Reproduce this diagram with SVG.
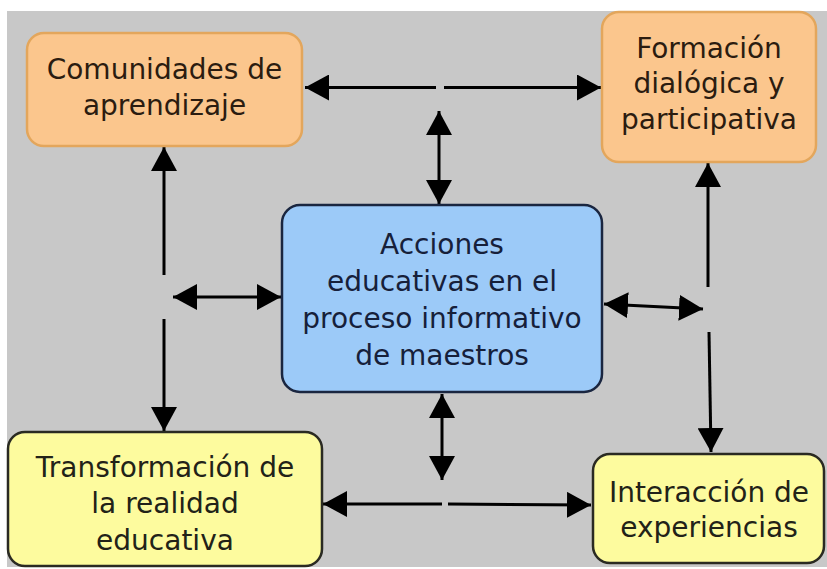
<svg xmlns="http://www.w3.org/2000/svg" width="827" height="569" viewBox="0 0 827 569">
<style>
.orange{fill:#fbc68d;stroke:#e3a65c;stroke-width:2.5}
.blue{fill:#9ccaf8;stroke:#1a2640;stroke-width:2.5}
.yellow{fill:#fdfb9e;stroke:#2a2a22;stroke-width:2.5}
text{font-family:"DejaVu Sans","Verdana",sans-serif;font-size:28px;text-anchor:middle}
.to{fill:#2b1c10}
.tb{fill:#16203a}
.ty{fill:#222218}
.c line{stroke:#000;stroke-width:3;fill:none}
.e{marker-end:url(#ah)}
.d{marker-start:url(#ah);marker-end:url(#ah)}
</style>
<defs>
<marker id="ah" viewBox="0 0 24 26" refX="24" refY="13" markerWidth="24" markerHeight="26" markerUnits="userSpaceOnUse" orient="auto-start-reverse">
<path d="M0,0 L24,13 L0,26 z" fill="#000"/>
</marker>
</defs>
<rect x="0" y="0" width="827" height="569" fill="#ffffff"/>
<rect x="7" y="11" width="820" height="556" fill="#c8c8c8"/>
<g id="connectors" class="c">
<line class="e" x1="436" y1="87.5" x2="305" y2="87.5"/>
<line class="e" x1="444" y1="87.5" x2="601" y2="87.5"/>
<line class="d" x1="439" y1="111" x2="439" y2="204"/>
<line class="e" x1="164" y1="275" x2="164" y2="147"/>
<line class="e" x1="164" y1="319" x2="164" y2="431"/>
<line class="d" x1="173" y1="297" x2="281" y2="297"/>
<line class="d" x1="604" y1="304" x2="703" y2="309"/>
<line class="e" x1="708" y1="287" x2="708" y2="163"/>
<line class="e" x1="709" y1="332" x2="711" y2="452"/>
<line class="d" x1="442" y1="394" x2="442" y2="480"/>
<line class="e" x1="442" y1="504" x2="323" y2="504"/>
<line class="e" x1="448" y1="504" x2="591" y2="505"/>
</g>
<g id="comunidades">
<rect class="orange" x="27" y="33" width="275" height="113" rx="17"/>
<text class="to" x="164.5" y="79">Comunidades de</text>
<text class="to" x="164.5" y="115">aprendizaje</text>
</g>
<g id="formacion">
<rect class="orange" x="602" y="12" width="214" height="150" rx="17"/>
<text class="to" x="709" y="58">Formación</text>
<text class="to" x="709" y="93">dialógica y</text>
<text class="to" x="709" y="129">participativa</text>
</g>
<g id="acciones">
<rect class="blue" x="282" y="205" width="320" height="187" rx="18"/>
<text class="tb" x="442" y="254">Acciones</text>
<text class="tb" x="442" y="291">educativas en el</text>
<text class="tb" x="442" y="328">proceso informativo</text>
<text class="tb" x="442" y="365">de maestros</text>
</g>
<g id="transformacion">
<rect class="yellow" x="8" y="432" width="314" height="134" rx="17"/>
<text class="ty" x="165" y="477">Transformación de</text>
<text class="ty" x="165" y="513">la realidad</text>
<text class="ty" x="165" y="550">educativa</text>
</g>
<g id="interaccion">
<rect class="yellow" x="593" y="454" width="231" height="109" rx="17"/>
<text class="ty" x="709" y="502">Interacción de</text>
<text class="ty" x="709" y="537">experiencias</text>
</g>
</svg>
